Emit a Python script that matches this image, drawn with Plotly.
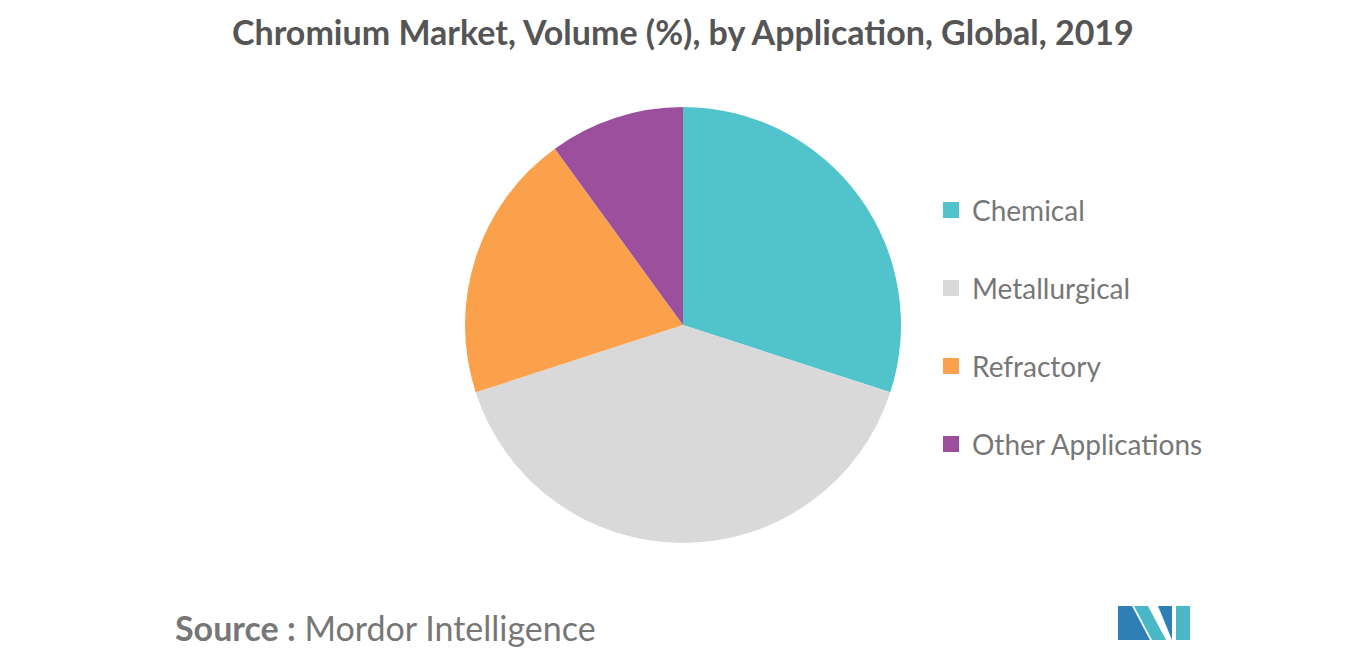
import plotly.graph_objects as go

labels = ["Chemical", "Metallurgical", "Refractory", "Other Applications"]
values = [30, 40, 20, 10]
colors = ["#50c4ca", "#d9d9d9", "#fba04b", "#9b4f9c"]

W, H = 1366, 655
OX, OY = 8, 8  # page body margin offset

def px(x):
    return (x - OX) / W

def py(y):
    return 1 - (y - OY) / H

fig = go.Figure(go.Pie(labels=labels, values=values, marker=dict(colors=colors),
                       sort=False, direction="clockwise", rotation=0,
                       textinfo="none", hoverinfo="label+percent", showlegend=False,
                       domain=dict(x=[px(683 - 250), px(683 + 250)], y=[py(543), py(107)])))

shapes = []
anns = []
for i, lab in enumerate(labels):
    yc = 210 + i * 78
    shapes.append(dict(type="rect", xref="paper", yref="paper",
                       x0=px(943), x1=px(959), y0=py(yc + 8), y1=py(yc - 8),
                       fillcolor=colors[i], line=dict(width=0)))
    anns.append(dict(text=lab, x=px(970), y=py(yc), xref="paper", yref="paper",
                     xanchor="left", yanchor="middle", showarrow=False,
                     font=dict(size=28, color="#777777", family="Lato")))

anns.append(dict(text="<b>Chromium Market, Volume (%), by Application, Global, 2019</b>",
                 x=px(683), y=py(32), xref="paper", yref="paper", showarrow=False,
                 xanchor="center", yanchor="middle",
                 font=dict(size=34, color="#555555", family="Lato")))
anns.append(dict(text="<b>Source :</b> Mordor Intelligence", x=px(173), y=py(627),
                 xref="paper", yref="paper", xanchor="left", yanchor="middle", showarrow=False,
                 font=dict(size=34, color="#777777", family="Lato")))

def poly(pts, color):
    path = "M " + " L ".join(f"{px(x)},{py(y)}" for x, y in pts) + " Z"
    shapes.append(dict(type="path", xref="paper", yref="paper", path=path,
                       fillcolor=color, line=dict(width=0)))
poly([(1118, 640), (1118, 606), (1132, 606), (1150, 640)], "#2e7fb5")
poly([(1134, 606), (1148, 606), (1166, 640), (1152, 640)], "#4ab8c6")
poly([(1158, 606), (1172, 606), (1172, 640)], "#2e7fb5")
poly([(1176, 606), (1190, 606), (1190, 640), (1176, 640)], "#4ab8c6")

fig.update_layout(width=W, height=H, margin=dict(l=0, r=0, t=0, b=0),
                  paper_bgcolor="white", shapes=shapes, annotations=anns)
fig.write_html("out.html")
